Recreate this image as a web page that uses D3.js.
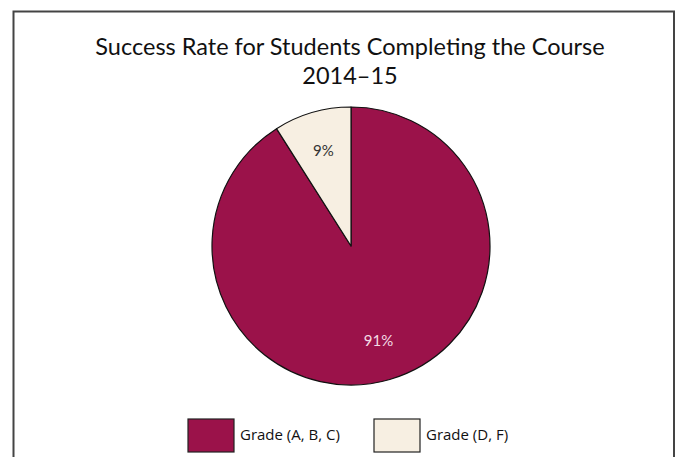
<!DOCTYPE html>
<html>
<head>
<meta charset="utf-8">
<script src="https://cdn.jsdelivr.net/npm/d3@7"></script>
<style>
  html, body { margin: 0; padding: 0; background: #fff; }
  svg { display: block; }
</style>
</head>
<body>
<div id="chart"></div>
<script>
// chart data
const categories = ["Grade (A, B, C)", "Grade (D, F)"];
const values = [91, 9];
const labels = ["91%", "9%"];
const colors = ["#9b124a", "#f7efe2"];
const labelColors = ["#f3dbe4", "#333333"];
const titleLines = ["Success Rate for Students Completing the Course", "2014\u201315"];

const width = 677, height = 457;
const cx = 351, cy = 246, radius = 139;

const svg = d3.select("#chart")
  .append("svg")
  .attr("width", width)
  .attr("height", height);

// outer frame (bottom edge is cut off by the picture)
svg.append("path")
  .attr("d", "M13.5,470 V11.5 H674 V470")
  .attr("fill", "none")
  .attr("stroke", "#444")
  .attr("stroke-width", 2);

// title
svg.selectAll("text.title")
  .data(titleLines)
  .enter()
  .append("text")
  .attr("class", "title")
  .attr("x", 350)
  .attr("y", (d, i) => 55 + i * 29)
  .attr("text-anchor", "middle")
  .style("font-family", "Lato, 'Open Sans', sans-serif")
  .style("font-size", "23.5px")
  .style("fill", "#111")
  .text(d => d);

const data = categories.map((c, i) => ({ name: c, value: values[i], label: labels[i], i: i }));

const pie = d3.pie().sort(null).value(d => d.value);
const arc = d3.arc().innerRadius(0).outerRadius(radius);
const labelArc = d3.arc().innerRadius(radius * 0.71).outerRadius(radius * 0.71);

const g = svg.append("g").attr("transform", "translate(" + cx + "," + cy + ")");

const slices = pie(data);

g.selectAll("path.slice")
  .data(slices)
  .enter()
  .append("path")
  .attr("class", "slice")
  .attr("d", arc)
  .attr("fill", d => colors[d.data.i])
  .attr("stroke", "#111")
  .attr("stroke-width", 1.2)
  .attr("stroke-linejoin", "round");

g.selectAll("text.lbl")
  .data(slices)
  .enter()
  .append("text")
  .attr("class", "lbl")
  .attr("transform", d => "translate(" + labelArc.centroid(d) + ")")
  .attr("text-anchor", "middle")
  .attr("dy", "0.35em")
  .style("font-family", "Lato, 'Open Sans', sans-serif")
  .style("font-size", "15px")
  .style("fill", d => labelColors[d.data.i])
  .text(d => d.data.label);

// legend
const legendX = d3.scalePoint().domain(categories).range([188, 374]);

const leg = svg.selectAll("g.legend")
  .data(data)
  .enter()
  .append("g")
  .attr("class", "legend")
  .attr("transform", d => "translate(" + legendX(d.name) + ",419)");

leg.append("rect")
  .attr("width", 46)
  .attr("height", 33)
  .attr("fill", d => colors[d.i])
  .attr("stroke", "#222")
  .attr("stroke-width", 1.2);

leg.append("text")
  .attr("x", 52)
  .attr("y", 16)
  .attr("dy", "0.35em")
  .style("font-family", "'Open Sans', 'Noto Sans', sans-serif")
  .style("font-size", "15px")
  .style("fill", "#111")
  .text(d => d.name);
</script>
</body>
</html>
